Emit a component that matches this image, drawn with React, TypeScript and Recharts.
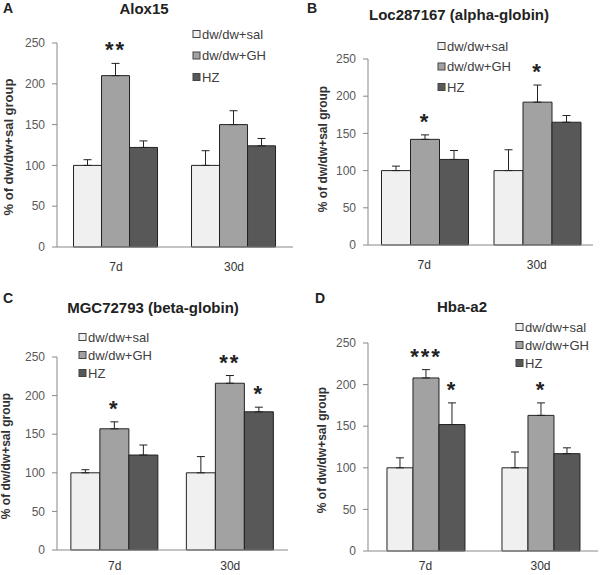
import { BarChart, Bar, XAxis, YAxis, ErrorBar, LabelList } from 'recharts';

const FONT = 'Arial, "Liberation Sans", Helvetica, sans-serif';

const categories = ['7d', '30d'];
const yTicks = [0, 50, 100, 150, 200, 250];
const seriesNames = ['dw/dw+sal', 'dw/dw+GH', 'HZ'];
const seriesColors = ['#f0f0f0', '#a2a2a2', '#585858'];

// A - Alox15
const aloxSal = [100, 100];
const aloxSalErr = [7, 18];
const aloxGH = [210, 150];
const aloxGHErr = [15, 17];
const aloxHZ = [122, 124];
const aloxHZErr = [8, 9];
const aloxGHStars = ['**', ''];
const aloxHZStars = ['', ''];

// B - Loc287167
const locSal = [100, 100];
const locSalErr = [6, 28];
const locGH = [142, 192];
const locGHErr = [6, 23];
const locHZ = [115, 165];
const locHZErr = [12, 9];
const locGHStars = ['*', '*'];
const locHZStars = ['', ''];

// C - MGC72793
const mgcSal = [100, 100];
const mgcSalErr = [4, 21];
const mgcGH = [157, 216];
const mgcGHErr = [9, 10];
const mgcHZ = [123, 179];
const mgcHZErr = [13, 6];
const mgcGHStars = ['*', '**'];
const mgcHZStars = ['', '*'];

// D - Hba-a2
const hbaSal = [100, 100];
const hbaSalErr = [12, 19];
const hbaGH = [208, 163];
const hbaGHErr = [10, 15];
const hbaHZ = [152, 117];
const hbaHZErr = [26, 7];
const hbaGHStars = ['***', '*'];
const hbaHZStars = ['*', ''];

const buildRows = (sal, salE, gh, ghE, hz, hzE, ghS, hzS) =>
  categories.map((c, i) => ({
    cat: c,
    sal: sal[i], salE: [0, salE[i]],
    gh: gh[i], ghE: [0, ghE[i]],
    hz: hz[i], hzE: [0, hzE[i]],
    ghStar: ghS[i], hzStar: hzS[i],
  }));

const starContent = (errs, pxPerUnit) => (props: any) => {
  const s = props.value;
  if (!s) return null;
  const vb = props.viewBox || props;
  const cx = vb.x + vb.width / 2;
  const errTop = vb.y - errs[props.index] * pxPerUnit;
  const cy = errTop - 18;
  return (
    <text x={cx} y={cy + 12} textAnchor="middle" fontSize={22} fontWeight="bold"
      fontFamily={FONT} fill="#222" letterSpacing={2}>{s}</text>
  );
};

function Panel({ box, plot, rows, ghErr, hzErr, gapPct, tickGap }) {
  const yw = 40;
  const xh = 20;
  const margin = {
    left: plot.x0 - box.left - yw,
    right: box.left + box.width - plot.x1,
    top: plot.y0 - box.top,
    bottom: box.top + box.height - plot.y1 - xh,
  };
  const ppu = (plot.y1 - plot.y0) / 250;
  return (
    <div style={{ position: 'absolute', left: box.left, top: box.top }}>
      <BarChart width={box.width} height={box.height} data={rows} margin={margin}
        barCategoryGap={gapPct} barGap={0}>
        <XAxis dataKey="cat" height={xh} axisLine={{ stroke: '#888' }} tickLine={false}
          tickMargin={tickGap} tick={{ fill: '#333', fontSize: 12, fontFamily: FONT }} />
        <YAxis width={yw} domain={[0, 250]} ticks={yTicks} interval={0}
          axisLine={{ stroke: '#888' }} tickLine={{ stroke: '#888' }} tickSize={5} tickMargin={7}
          tick={{ fill: '#595959', fontSize: 12, fontFamily: FONT }} />
        <Bar dataKey="sal" fill={seriesColors[0]} stroke="#222" strokeWidth={1} isAnimationActive={false}>
          <ErrorBar dataKey="salE" width={4} stroke="#222" strokeWidth={1} direction="y" />
        </Bar>
        <Bar dataKey="gh" fill={seriesColors[1]} stroke="#222" strokeWidth={1} isAnimationActive={false}>
          <ErrorBar dataKey="ghE" width={4} stroke="#222" strokeWidth={1} direction="y" />
          <LabelList dataKey="ghStar" content={starContent(ghErr, ppu)} />
        </Bar>
        <Bar dataKey="hz" fill={seriesColors[2]} stroke="#222" strokeWidth={1} isAnimationActive={false}>
          <ErrorBar dataKey="hzE" width={4} stroke="#222" strokeWidth={1} direction="y" />
          <LabelList dataKey="hzStar" content={starContent(hzErr, ppu)} />
        </Bar>
      </BarChart>
    </div>
  );
}

function Legend({ x, y, gap }) {
  return (
    <g>
      {seriesNames.map((n, i) => (
        <g key={n}>
          <rect x={x} y={y + i * gap - 3.5} width={7} height={7} fill={seriesColors[i]} stroke="#444" strokeWidth={1} />
          <text x={x + 9} y={y + i * gap + 4.5} fontSize={13} fontFamily={FONT} fill="#404040">{n}</text>
        </g>
      ))}
    </g>
  );
}

function Texts({ letter, lx, ly, title, tx, ty, ylx, yly, ylSize }) {
  return (
    <g>
      <text x={lx} y={ly + 5} fontSize={14} fontWeight="bold" fontFamily={FONT} fill="#222">{letter}</text>
      <text x={tx} y={ty + 5} fontSize={15} fontWeight="bold" fontFamily={FONT} fill="#222" textAnchor="middle">{title}</text>
      <text x={ylx} y={yly} fontSize={ylSize} fontWeight="bold" fontFamily={FONT} fill="#333" textAnchor="middle"
        dominantBaseline="central" transform={`rotate(-90 ${ylx} ${yly})`}>% of dw/dw+sal group</text>
    </g>
  );
}

export default function App() {
  return (
    <div style={{ position: 'absolute', left: 0, top: 0, width: 601, height: 575, background: '#fff', overflow: 'hidden' }}>
      <Panel box={{ left: 0, top: 0, width: 300, height: 285 }} plot={{ x0: 57, x1: 293, y0: 43, y1: 247 }}
        rows={buildRows(aloxSal, aloxSalErr, aloxGH, aloxGHErr, aloxHZ, aloxHZErr, aloxGHStars, aloxHZStars)}
        ghErr={aloxGHErr} hzErr={aloxHZErr} gapPct="14%" tickGap={9} />
      <Panel box={{ left: 300, top: 0, width: 301, height: 285 }} plot={{ x0: 368, x1: 593, y0: 59, y1: 245 }}
        rows={buildRows(locSal, locSalErr, locGH, locGHErr, locHZ, locHZErr, locGHStars, locHZStars)}
        ghErr={locGHErr} hzErr={locHZErr} gapPct="12%" tickGap={9} />
      <Panel box={{ left: 0, top: 285, width: 300, height: 290 }} plot={{ x0: 57, x1: 288, y0: 357, y1: 550 }}
        rows={buildRows(mgcSal, mgcSalErr, mgcGH, mgcGHErr, mgcHZ, mgcHZErr, mgcGHStars, mgcHZStars)}
        ghErr={mgcGHErr} hzErr={mgcHZErr} gapPct="12%" tickGap={5} />
      <Panel box={{ left: 300, top: 285, width: 301, height: 290 }} plot={{ x0: 368, x1: 598, y0: 343, y1: 551 }}
        rows={buildRows(hbaSal, hbaSalErr, hbaGH, hbaGHErr, hbaHZ, hbaHZErr, hbaGHStars, hbaHZStars)}
        ghErr={hbaGHErr} hzErr={hbaHZErr} gapPct="16.5%" tickGap={4} />
      <svg width={601} height={575} style={{ position: 'absolute', left: 0, top: 0, pointerEvents: 'none' }}>
        <Texts letter="A" lx={3} ly={8} title="Alox15" tx={144} ty={9} ylx={8} yly={147} ylSize={13} />
        <Texts letter="B" lx={307} ly={8} title="Loc287167 (alpha-globin)" tx={459} ty={15} ylx={323} yly={149} ylSize={12} />
        <Texts letter="C" lx={3} ly={298} title="MGC72793 (beta-globin)" tx={153} ty={308} ylx={6} yly={456} ylSize={12} />
        <Texts letter="D" lx={315} ly={298} title="Hba-a2" tx={462} ty={307} ylx={322} yly={450} ylSize={12} />
        <Legend x={193} y={34} gap={21.5} />
        <Legend x={438} y={46} gap={20.5} />
        <Legend x={79} y={337} gap={18} />
        <Legend x={516} y={327} gap={18} />
      </svg>
    </div>
  );
}
